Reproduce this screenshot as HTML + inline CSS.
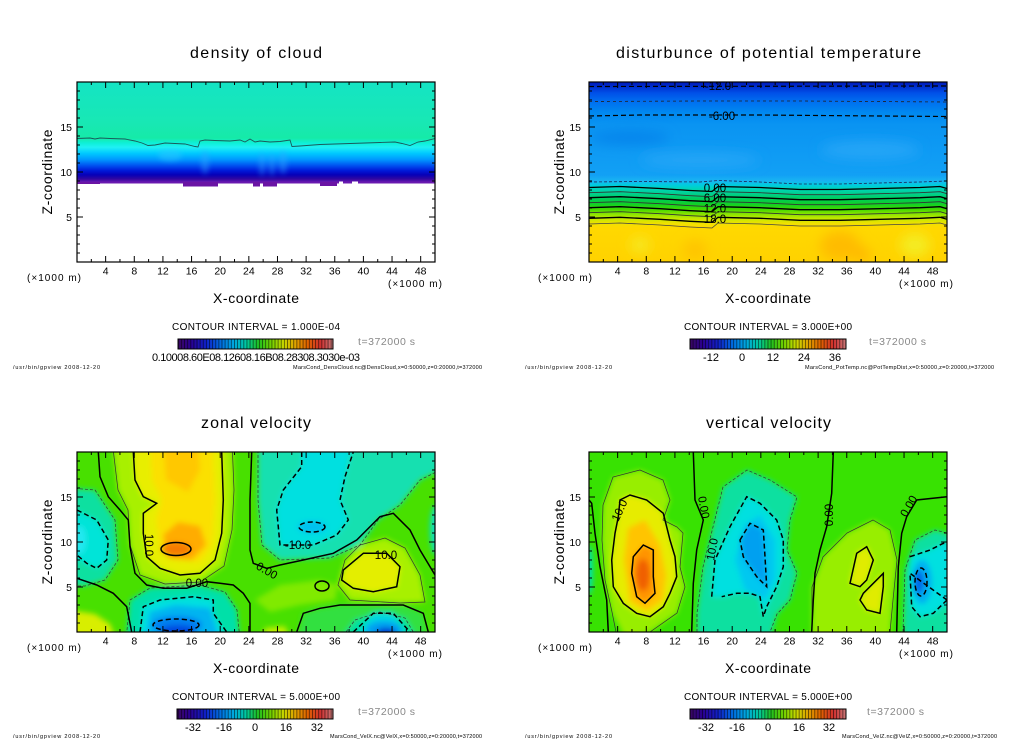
<!DOCTYPE html>
<html><head><meta charset="utf-8"><style>
html,body{margin:0;padding:0;background:#fff;}
svg{display:block;font-family:"Liberation Sans",sans-serif;}
</style></head><body>
<svg width="1024" height="740" viewBox="0 0 1024 740" xmlns="http://www.w3.org/2000/svg">
<defs>
<filter id="bl" filterUnits="userSpaceOnUse" x="0" y="0" width="1024" height="740"><feGaussianBlur stdDeviation="2.6"/></filter>
<filter id="bl6" filterUnits="userSpaceOnUse" x="0" y="0" width="1024" height="740"><feGaussianBlur stdDeviation="6"/></filter>
<clipPath id="c1"><rect x="77" y="82" width="358" height="180"/></clipPath>
<clipPath id="c2"><rect x="589" y="82" width="358" height="180"/></clipPath>
<clipPath id="c3"><rect x="77" y="452" width="358" height="180"/></clipPath>
<clipPath id="c4"><rect x="589" y="452" width="358" height="180"/></clipPath>
<linearGradient id="gCloud" gradientUnits="userSpaceOnUse" x1="0" y1="82" x2="0" y2="184">
<stop offset="0" stop-color="#14e4c4"/>
<stop offset="0.4" stop-color="#18e8b4"/>
<stop offset="0.55" stop-color="#16eaa8"/>
<stop offset="0.6" stop-color="#0ef0d8"/>
<stop offset="0.64" stop-color="#20f0f4"/>
<stop offset="0.7" stop-color="#00c8ff"/>
<stop offset="0.76" stop-color="#0098ff"/>
<stop offset="0.82" stop-color="#0050f0"/>
<stop offset="0.87" stop-color="#0018d8"/>
<stop offset="0.91" stop-color="#0600b8"/>
<stop offset="0.95" stop-color="#3008a0"/>
<stop offset="0.98" stop-color="#6818b0"/>
<stop offset="1" stop-color="#7020b0"/>
</linearGradient>
<linearGradient id="gPot" gradientUnits="userSpaceOnUse" x1="0" y1="82" x2="0" y2="262">
<stop offset="0" stop-color="#0018b8"/>
<stop offset="0.028" stop-color="#0030d0"/>
<stop offset="0.061" stop-color="#0050e8"/>
<stop offset="0.111" stop-color="#0070f0"/>
<stop offset="0.167" stop-color="#0088f0"/>
<stop offset="0.239" stop-color="#0a94f2"/>
<stop offset="0.517" stop-color="#12a0f5"/>
<stop offset="0.55" stop-color="#18b4f2"/>
<stop offset="0.572" stop-color="#00cce0"/>
<stop offset="0.594" stop-color="#00d4b8"/>
<stop offset="0.622" stop-color="#00d08c"/>
<stop offset="0.65" stop-color="#00cc58"/>
<stop offset="0.678" stop-color="#10d028"/>
<stop offset="0.706" stop-color="#40d800"/>
<stop offset="0.733" stop-color="#88e400"/>
<stop offset="0.761" stop-color="#c8e800"/>
<stop offset="0.789" stop-color="#f4e000"/>
<stop offset="0.811" stop-color="#ffd800"/>
<stop offset="1" stop-color="#ffd200"/>
</linearGradient>
<linearGradient id="gBar" x1="0" y1="0" x2="1" y2="0">
<stop offset="0" stop-color="#3a0860"/>
<stop offset="0.08" stop-color="#2a0090"/>
<stop offset="0.18" stop-color="#1020c8"/>
<stop offset="0.28" stop-color="#0070e0"/>
<stop offset="0.36" stop-color="#00a8e0"/>
<stop offset="0.44" stop-color="#00c8a0"/>
<stop offset="0.52" stop-color="#20c020"/>
<stop offset="0.6" stop-color="#70d000"/>
<stop offset="0.68" stop-color="#c8d800"/>
<stop offset="0.76" stop-color="#e0a000"/>
<stop offset="0.84" stop-color="#e06000"/>
<stop offset="0.92" stop-color="#d03030"/>
<stop offset="1" stop-color="#c87878"/>
</linearGradient>
<pattern id="stripe" width="3.12" height="12" patternUnits="userSpaceOnUse"><rect width="0.9" height="12" fill="#000" opacity="0.55"/></pattern>
<path id="tk" fill="none" stroke="#000" stroke-width="1" d="M14.32 180v-3M28.64 180v-6M42.96 180v-3M57.28 180v-6M71.6 180v-3M85.92 180v-6M100.24 180v-3M114.56 180v-6M128.88 180v-3M143.2 180v-6M157.52 180v-3M171.84 180v-6M186.16 180v-3M200.48 180v-6M214.8 180v-3M229.12 180v-6M243.44 180v-3M257.76 180v-6M272.08 180v-3M286.4 180v-6M300.72 180v-3M315.04 180v-6M329.36 180v-3M343.68 180v-6 M14.32 0v3M28.64 0v6M42.96 0v3M57.28 0v6M71.6 0v3M85.92 0v6M100.24 0v3M114.56 0v6M128.88 0v3M143.2 0v6M157.52 0v3M171.84 0v6M186.16 0v3M200.48 0v6M214.8 0v3M229.12 0v6M243.44 0v3M257.76 0v6M272.08 0v3M286.4 0v6M300.72 0v3M315.04 0v6M329.36 0v3M343.68 0v6 M0 171h3M0 162h3M0 153h3M0 144h3M0 135h6M0 126h3M0 117h3M0 108h3M0 99h3M0 90h6M0 81h3M0 72h3M0 63h3M0 54h3M0 45h6M0 36h3M0 27h3M0 18h3M0 9h3 M358 171h-3M358 162h-3M358 153h-3M358 144h-3M358 135h-6M358 126h-3M358 117h-3M358 108h-3M358 99h-3M358 90h-6M358 81h-3M358 72h-3M358 63h-3M358 54h-3M358 45h-6M358 36h-3M358 27h-3M358 18h-3M358 9h-3"/>
</defs>

<rect width="1024" height="740" fill="#fff"/>

<!-- ===== Panel 1: density of cloud ===== -->
<text x="190" y="58" font-size="16" textLength="132">density of cloud</text>
<g clip-path="url(#c1)">
<rect x="77" y="82" width="358" height="180" fill="#fff"/>
<rect x="77" y="82" width="358" height="101.5" fill="url(#gCloud)"/>
<g filter="url(#bl)" opacity="0.45">
<ellipse cx="205" cy="162" rx="4" ry="12" fill="#30a8ff"/>
<ellipse cx="262" cy="164" rx="3" ry="12" fill="#30a8ff"/>
<ellipse cx="272" cy="164" rx="3" ry="12" fill="#30a8ff"/>
<ellipse cx="283" cy="162" rx="4" ry="12" fill="#30a8ff"/>
<ellipse cx="170" cy="155" rx="12" ry="6" fill="#30c8ff"/>
</g>
<g fill="#6a14a4">
<rect x="77" y="182" width="23" height="2"/>
<rect x="183" y="182" width="35" height="4.5"/>
<rect x="253" y="182" width="7" height="4.5"/>
<rect x="263" y="182" width="14" height="4.5"/>
<rect x="320" y="182" width="17" height="4"/>
</g>
<rect x="339" y="181.5" width="4" height="2" fill="#fff"/>
<rect x="352" y="181.5" width="6" height="2" fill="#fff"/>
<polyline fill="none" stroke="#1a5a5a" stroke-width="0.9" points="77,138.5 90,138 95,139 100,138 110,138.5 125,139 135,141 142,143 148,145.5 155,145 165,143 185,144 195,146.5 198,147 200,141 205,140 215,140.5 230,141 240,140 245,142 250,139 255,142 260,141 270,142 280,141.5 290,140 292,146.5 300,146 320,144.5 350,143.5 380,142.5 395,142 402,143.5 410,145.5 418,142 425,141 435,138.5"/>
</g>
<g transform="translate(77,82)">
<use href="#tk"/>
<rect x="0" y="0" width="358" height="180" fill="none" stroke="#000" stroke-width="1.2"/>
<g font-size="10.5" text-anchor="middle"><text x="28.64" y="192.5">4</text><text x="57.28" y="192.5">8</text><text x="85.92" y="192.5">12</text><text x="114.56" y="192.5">16</text><text x="143.2" y="192.5">20</text><text x="171.84" y="192.5">24</text><text x="200.48" y="192.5">28</text><text x="229.12" y="192.5">32</text><text x="257.76" y="192.5">36</text><text x="286.4" y="192.5">40</text><text x="315.04" y="192.5">44</text><text x="343.68" y="192.5">48</text></g>
<g font-size="10.5" text-anchor="end"><text x="-5" y="49">15</text><text x="-5" y="94">10</text><text x="-5" y="139">5</text></g>
<text x="-50" y="199" font-size="10" textLength="54">(×1000 m)</text>
<text x="311" y="205" font-size="10" textLength="54">(×1000 m)</text>
<text x="179" y="221" font-size="14" text-anchor="middle" textLength="86">X-coordinate</text>
<text transform="translate(-25,90) rotate(-90)" font-size="14" text-anchor="middle" textLength="85">Z-coordinate</text>
</g>
<text x="172" y="330" font-size="10" textLength="168">CONTOUR INTERVAL = 1.000E-04</text>
<rect x="178" y="339" width="155" height="10" fill="url(#gBar)"/>
<rect x="178" y="339" width="155" height="10" fill="url(#stripe)"/>
<rect x="178" y="339" width="155" height="10" fill="none" stroke="#000" stroke-width="1"/>
<text x="358" y="345" font-size="10.5" fill="#888" textLength="57">t=372000 s</text>
<text x="152" y="361" font-size="11" textLength="208">0.10008.60E08.12608.16B08.28308.3030e-03</text>
<text x="13" y="369" font-size="5.5" textLength="87">/usr/bin/gpview   2008-12-20</text>
<text x="293" y="369" font-size="5.5" textLength="189">MarsCond_DensCloud.nc@DensCloud,x=0:50000,z=0:20000,t=372000</text>

<!-- ===== Panel 2: potential temperature ===== -->
<text x="616" y="58" font-size="16" textLength="305">disturbunce of potential temperature</text>
<g clip-path="url(#c2)">
<rect x="589" y="82" width="358" height="180" fill="url(#gPot)"/>
<g filter="url(#bl6)">
<ellipse cx="700" cy="160" rx="60" ry="7" fill="#2eaaf8" opacity="0.7"/>
<ellipse cx="870" cy="150" rx="50" ry="9" fill="#2eaaf8" opacity="0.7"/>
<ellipse cx="630" cy="138" rx="40" ry="7" fill="#0078e8" opacity="0.6"/>
<ellipse cx="840" cy="246" rx="20" ry="15" fill="#ffbc00"/>
<ellipse cx="695" cy="250" rx="12" ry="10" fill="#ffc400"/>
<ellipse cx="862" cy="255" rx="8" ry="8" fill="#ffb800"/>
<ellipse cx="915" cy="245" rx="15" ry="12" fill="#f4ec20"/>
<ellipse cx="640" cy="245" rx="10" ry="8" fill="#f6e820"/>
</g>
<g fill="none" stroke="#000">
<polyline stroke-width="1.2" stroke-dasharray="5 3" points="589,86.5 947,86"/>
<polyline stroke-width="0.8" stroke="#222" stroke-dasharray="3 3" points="589,101.5 700,101 800,101 947,102"/>
<polyline stroke-width="1.2" stroke-dasharray="5 3" points="589,116 640,115 700,115 760,115 820,115.5 880,116 947,116.5"/>
<polyline stroke-width="0.8" stroke="#225" stroke-dasharray="3 2" points="589,182 640,181.5 700,182 718,180.5 760,182 800,184 840,184 880,183 920,182 947,181"/>
<polyline stroke-width="1.3" points="589,187.5 620,186.5 660,188.5 690,190.5 712,191.5 718,186.5 760,187.5 800,189.5 840,189.5 880,188.5 920,187.5 940,186.5 947,188.5"/>
<polyline stroke-width="0.8" stroke="#333" points="589,192.7 620,191.7 660,193.7 690,195.7 712,196.7 718,191.7 760,192.7 800,194.7 840,194.7 880,193.7 920,192.7 940,191.7 947,193.7"/>
<polyline stroke-width="1.3" points="589,197.7 620,196.7 660,198.7 690,200.7 712,201.7 718,196.7 760,197.7 800,199.7 840,199.7 880,198.7 920,197.7 940,196.7 947,198.7"/>
<polyline stroke-width="0.8" stroke="#333" points="589,202.7 620,201.7 660,203.7 690,205.7 712,206.7 718,201.7 760,202.7 800,204.7 840,204.7 880,203.7 920,202.7 940,201.7 947,203.7"/>
<polyline stroke-width="1.3" points="589,207.7 620,206.7 660,208.7 690,210.7 712,211.7 718,206.7 760,207.7 800,209.7 840,209.7 880,208.7 920,207.7 940,206.7 947,208.7"/>
<polyline stroke-width="0.8" stroke="#333" points="589,212.7 620,211.7 660,213.7 690,215.7 712,216.7 718,211.7 760,212.7 800,214.7 840,214.7 880,213.7 920,212.7 940,211.7 947,213.7"/>
<polyline stroke-width="1.3" points="589,218.3 620,217.3 660,219.3 690,221.3 712,222.3 718,217.3 760,218.3 800,220.3 840,220.3 880,219.3 920,218.3 940,217.3 947,219.3"/>
<polyline stroke-width="0.8" stroke="#444" points="589,224 620,223 660,225 690,227 712,228 718,223 760,224 800,226 840,226 880,225 920,224 940,223 947,225"/>
</g>
<g font-size="11.5" text-anchor="middle">
<text x="718" y="90">-12.0</text>
<text x="722" y="120">-6.00</text>
<text x="715" y="192">0.00</text>
<text x="715" y="202">6.00</text>
<text x="715" y="212.5">12.0</text>
<text x="715" y="223">18.0</text>
</g>
</g>
<g transform="translate(589,82)">
<use href="#tk"/>
<rect x="0" y="0" width="358" height="180" fill="none" stroke="#000" stroke-width="1.2"/>
<g font-size="10.5" text-anchor="middle"><text x="28.64" y="192.5">4</text><text x="57.28" y="192.5">8</text><text x="85.92" y="192.5">12</text><text x="114.56" y="192.5">16</text><text x="143.2" y="192.5">20</text><text x="171.84" y="192.5">24</text><text x="200.48" y="192.5">28</text><text x="229.12" y="192.5">32</text><text x="257.76" y="192.5">36</text><text x="286.4" y="192.5">40</text><text x="315.04" y="192.5">44</text><text x="343.68" y="192.5">48</text></g>
<g font-size="10.5" text-anchor="end"><text x="-8" y="49">15</text><text x="-8" y="94">10</text><text x="-8" y="139">5</text></g>
<text x="-51" y="199" font-size="10" textLength="54">(×1000 m)</text>
<text x="310" y="205" font-size="10" textLength="54">(×1000 m)</text>
<text x="179" y="221" font-size="14" text-anchor="middle" textLength="86">X-coordinate</text>
<text transform="translate(-25,90) rotate(-90)" font-size="14" text-anchor="middle" textLength="85">Z-coordinate</text>
</g>
<text x="684" y="330" font-size="10" textLength="168">CONTOUR INTERVAL = 3.000E+00</text>
<rect x="690" y="339" width="156" height="10" fill="url(#gBar)"/>
<rect x="690" y="339" width="156" height="10" fill="url(#stripe)"/>
<rect x="690" y="339" width="156" height="10" fill="none" stroke="#000" stroke-width="1"/>
<text x="869" y="345" font-size="10.5" fill="#888" textLength="57">t=372000 s</text>
<g font-size="11" text-anchor="middle"><text x="711" y="361">-12</text><text x="742" y="361">0</text><text x="773" y="361">12</text><text x="804" y="361">24</text><text x="835" y="361">36</text></g>
<text x="525" y="369" font-size="5.5" textLength="87">/usr/bin/gpview   2008-12-20</text>
<text x="805" y="369" font-size="5.5" textLength="189">MarsCond_PotTemp.nc@PotTempDist,x=0:50000,z=0:20000,t=372000</text>

<!-- ===== Panel 3: zonal velocity ===== -->
<text x="201" y="428" font-size="16" textLength="110">zonal velocity</text>
<g clip-path="url(#c3)">
<rect x="77" y="452" width="358" height="180" fill="#48e000"/>
<g filter="url(#bl)">
<path fill="#a8f000" d="M112 440 L118 490 L128 510 L130 545 L140 575 L165 584 L200 582 L224 566 L232 530 L234 490 L232 440 Z"/>
<path fill="#e8ee00" d="M133 440 L135 480 L143 497 L157 503 L143 513 L143 533 L147 557 L160 568 L180 575 L200 573 L215 560 L222 533 L223 500 L222 440 Z"/>
<path fill="#fbe000" d="M150 440 L152 480 L162 500 L156 520 L160 545 L175 560 L200 562 L212 545 L215 500 L212 440 Z"/>
<path fill="#ffc800" d="M163 440 L166 480 L188 492 L200 470 L198 440 Z"/>
<path fill="#ffac00" d="M163 535 L178 522 L200 526 L206 545 L192 560 L168 558 Z"/>
<ellipse cx="176" cy="549" rx="15" ry="6.5" fill="#f57a00"/>
<path fill="#10e0a0" d="M70 488 L95 490 L115 520 L118 560 L105 580 L85 586 L70 586 Z"/>
<path fill="#00e4d8" d="M70 508 L97 520 L108 540 L107 560 L97 568 L87 564 L70 556 Z"/>
<ellipse cx="80" cy="540" rx="6" ry="14" fill="#20e8f0"/>
<path fill="#18e0b0" d="M258 440 L258 500 L262 545 L280 560 L330 558 L360 545 L378 520 L400 505 L420 480 L440 470 L440 440 Z"/>
<path fill="#00e0e0" d="M301.7 440 L301.7 466.7 L283.3 490 L276.7 510 L280 545 L313 545 L336.7 535 L348.3 520 L340 500 L345 476.7 L353.3 440 Z"/>
<ellipse cx="312" cy="527" rx="14" ry="6" fill="#00c0f0"/>
<ellipse cx="436" cy="530" rx="6" ry="25" fill="#10e0c0"/>
<path fill="#00e0a8" d="M126 640 L130 600 L150 588 L200 585 L225 592 L237 610 L240 640 Z"/>
<path fill="#00e0e0" d="M140 640 L143 606.7 L160 600 L193 596.7 L213 600 L213 613 L227 640 Z"/>
<path fill="#00b4f0" d="M145 640 L150 612 L175 605 L210 608 L220 640 Z"/>
<ellipse cx="177" cy="625" rx="25" ry="9" fill="#0080f0"/>
<ellipse cx="178" cy="631" rx="18" ry="6" fill="#0048e0"/>
<path fill="#30e040" d="M296.7 640 L303 613 L320 608 L340 605 L403 605 L423 613 L428 640 Z"/>
<path fill="#00e0a0" d="M340 640 L355 620 L380 612 L405 618 L418 640 Z"/>
<path fill="#00d8e0" d="M353 640 L373 613 L393 613 L410 640 Z"/>
<ellipse cx="384" cy="630" rx="18" ry="9" fill="#00a0f0"/>
<ellipse cx="386" cy="633" rx="10" ry="5" fill="#0030d0"/>
<path fill="#a8f000" d="M338 585 L345 560 L360 545 L385 538 L405 548 L420 575 L425 602 L400 603 L350 600 Z"/>
<path fill="#e4ee00" d="M363 553 L343 570 L342 580 L353 588 L373 592 L397 587 L400 567 L387 553 Z"/>
<path fill="#d8ee00" d="M70 610 L95 614 L110 624 L116 640 L70 640 Z"/>
<path fill="#c0f000" d="M262 640 L265 628 L285 626 L290 640 Z"/>
<path fill="#80ea00" d="M255 600 L280 585 L320 580 L338 585 L335 600 L300 605 L270 612 Z"/>
</g>
<g fill="none" stroke="#333" stroke-width="0.7">
<path d="M112 440 L118 490 L128 510 L130 545 L140 575 L165 584 L200 582 L224 566 L232 530 L234 490 L232 440"/>
<path d="M338 585 L345 560 L360 545 L385 538 L405 548 L420 575 L425 602 L400 603 L350 600 Z"/>
<path stroke-dasharray="3 2" d="M70 488 L95 490 L115 520 L118 560 L105 580 L85 586 L70 586"/>
<path stroke-dasharray="3 2" d="M258 440 L258 500 L262 545 L280 560 L330 558 L360 545 L378 520 L400 505 L420 480 L440 470"/>
<path stroke-dasharray="3 2" d="M126 640 L130 600 L150 588 L200 585 L225 592 L237 610 L240 640"/>
<path stroke-dasharray="3 2" d="M340 640 L355 620 L380 612 L405 618 L418 640"/>
</g>
<g fill="none" stroke="#000" stroke-width="1.5">
<path d="M98.3 452 L100 476.7 L108.3 496.7 L120 510 L128.3 520 L130 546.7 L135 573.3 L146.7 585 L163.3 588.3 L186.7 588.3 L206.7 581.7 L220 583.3 L233.3 585 L243.3 593.3 L250 603.3 L250 632"/>
<path d="M77 578.3 L96.7 585 L113.3 593.3 L126.7 606.7 L131.7 632"/>
<path d="M133.3 452 L135 480 L143.3 496.7 L156.7 503.3 L143.3 513.3 L143.3 533.3 L146.7 556.7 L160 568.3 L180 575 L200 573.3 L215 560 L221.7 533.3 L223.3 500 L221.7 452"/>
<ellipse cx="176" cy="549" rx="15" ry="6.5"/>
<path d="M251.7 452 L250 500 L250 550 L253.3 563.3 L266.7 568.3 L280 565 L303.3 560 L333.3 553.3 L356.7 540 L380 516.7 L393.3 513.3 L410 530 L420 550 L435 575"/>
<path d="M363.3 553.3 L343.3 570 L341.7 580 L353.3 588.3 L373.3 591.7 L396.7 586.7 L400 566.7 L386.7 553.3 Z"/>
<path d="M296.7 632 L303.3 613.3 L320 608.3 L340 605 L403.3 605 L423.3 613.3 L428.3 632"/>
<ellipse cx="322" cy="586" rx="7" ry="5"/>
<g stroke-dasharray="5 3">
<path d="M77 510 L96.7 520 L108.3 540 L106.7 560 L96.7 568.3 L86.7 563.3 L77 555"/>
<path d="M301.7 452 L301.7 466.7 L283.3 490 L276.7 510 L280 545 L313.3 545 L336.7 535 L348.3 520 L340 500 L345 476.7 L353.3 452"/>
<ellipse cx="312" cy="527" rx="13" ry="5"/>
<path d="M140 632 L143.3 606.7 L160 600 L193.3 596.7 L213.3 600 L213.3 613.3 L226.7 632"/>
<ellipse cx="176" cy="625" rx="23" ry="6"/>
<path d="M353.3 632 L373.3 613.3 L393.3 613.3 L410 632"/>
</g>
</g>
<g font-size="11.5">
<text transform="translate(145,545) rotate(90)" text-anchor="middle">10.0</text>
<text x="197" y="587" text-anchor="middle">0.00</text>
<text transform="translate(265,574) rotate(30)" text-anchor="middle">0.00</text>
<text x="298" y="549" text-anchor="middle">-10.0</text>
<text x="386" y="559" text-anchor="middle">10.0</text>
</g>
</g>
<g transform="translate(77,452)">
<use href="#tk"/>
<rect x="0" y="0" width="358" height="180" fill="none" stroke="#000" stroke-width="1.2"/>
<g font-size="10.5" text-anchor="middle"><text x="28.64" y="192.5">4</text><text x="57.28" y="192.5">8</text><text x="85.92" y="192.5">12</text><text x="114.56" y="192.5">16</text><text x="143.2" y="192.5">20</text><text x="171.84" y="192.5">24</text><text x="200.48" y="192.5">28</text><text x="229.12" y="192.5">32</text><text x="257.76" y="192.5">36</text><text x="286.4" y="192.5">40</text><text x="315.04" y="192.5">44</text><text x="343.68" y="192.5">48</text></g>
<g font-size="10.5" text-anchor="end"><text x="-5" y="49">15</text><text x="-5" y="94">10</text><text x="-5" y="139">5</text></g>
<text x="-50" y="199" font-size="10" textLength="54">(×1000 m)</text>
<text x="311" y="205" font-size="10" textLength="54">(×1000 m)</text>
<text x="179" y="221" font-size="14" text-anchor="middle" textLength="86">X-coordinate</text>
<text transform="translate(-25,90) rotate(-90)" font-size="14" text-anchor="middle" textLength="85">Z-coordinate</text>
</g>
<text x="172" y="700" font-size="10" textLength="168">CONTOUR INTERVAL = 5.000E+00</text>
<rect x="177" y="709" width="156" height="10" fill="url(#gBar)"/>
<rect x="177" y="709" width="156" height="10" fill="url(#stripe)"/>
<rect x="177" y="709" width="156" height="10" fill="none" stroke="#000" stroke-width="1"/>
<text x="358" y="715" font-size="10.5" fill="#888" textLength="57">t=372000 s</text>
<g font-size="11" text-anchor="middle"><text x="193" y="731">-32</text><text x="224" y="731">-16</text><text x="255" y="731">0</text><text x="286" y="731">16</text><text x="317" y="731">32</text></g>
<text x="13" y="738" font-size="5.5" textLength="87">/usr/bin/gpview   2008-12-20</text>
<text x="330" y="738" font-size="5.5" textLength="152">MarsCond_VelX.nc@VelX,x=0:50000,z=0:20000,t=372000</text>

<!-- ===== Panel 4: vertical velocity ===== -->
<text x="706" y="428" font-size="16" textLength="125">vertical velocity</text>
<g clip-path="url(#c4)">
<rect x="589" y="452" width="358" height="180" fill="#38e202"/>
<g filter="url(#bl)">
<path fill="#98ee00" d="M603 505 L613 477 L640 470 L663 480 L670 500 L663 520 L677 527 L683 533 L680 567 L685 587 L677 613 L650 632 L625 638 L612 612 L605 580 L602 540 Z"/>
<path fill="#e6ec00" d="M618.3 516.7 L620 500 L630 495 L646.7 500 L663.3 513.3 L670 540 L675 556.7 L676.7 576.7 L670 593.3 L663.3 606.7 L650 616.7 L636.7 613.3 L623.3 603.3 L613.3 586.7 L611.7 560 L615 533.3 Z"/>
<path fill="#ffc400" d="M624 560 L628 528 L645 520 L660 545 L666 575 L663 600 L647 611 L630 602 Z"/>
<path fill="#ff9400" d="M633.3 556.7 L643.3 545 L653.3 550 L653.3 576.7 L655 593.3 L645 603.3 L636.7 596.7 L631.7 573.3 Z"/>
<ellipse cx="643" cy="575" rx="7" ry="16" fill="#f06000"/>
<path fill="#10e0a0" d="M697 640 L697 613 L703 567 L723 487 L747 470 L770 480 L797 497 L790 520 L787 550 L797 573 L790 600 L777 614 L770 640 Z"/>
<path fill="#00e0e0" d="M711.7 596.7 L715 560 L730 526.7 L746.7 496.7 L760 503.3 L770 513.3 L776.7 520 L783.3 540 L783.3 566.7 L776.7 586.7 L766.7 606.7 L763.3 616.7 L760 596.7 L750 593.3 L736.7 593.3 L721.7 596.7 Z"/>
<path fill="#00c8f0" d="M735 560 L745 525 L760 515 L775 540 L775 580 L765 600 L745 590 Z"/>
<path fill="#00a0f0" d="M740 540 L750 523 L763 530 L765 557 L767 587 L757 577 L743 557 Z"/>
<path fill="#98ee00" d="M812 640 L812 587 L823 557 L847 533 L873 520 L890 530 L897 560 L893 600 L890 640 Z"/>
<path fill="#e0ec00" d="M850 583.3 L856.7 553.3 L866.7 546.7 L873.3 560 L866.7 580 L860 586.7 Z"/>
<path fill="#e0ec00" d="M863.3 593.3 L883.3 573.3 L883.3 586.7 L880 613.3 L866.7 610 L860 600 Z"/>
<path fill="#10e0a0" d="M903 640 L905 570 L915 540 L935 530 L952 535 L952 640 Z"/>
<path fill="#00e0e0" d="M910 556.7 L930 550 L943.3 543.3 L952 545 L952 600 L933.3 613.3 L920 616.7 L911.7 606.7 L910 573.3 Z"/>
<ellipse cx="922" cy="582" rx="10" ry="22" fill="#00b0f0"/>
<ellipse cx="919" cy="582" rx="5" ry="12" fill="#0068e8"/>
<ellipse cx="589" cy="570" rx="4" ry="25" fill="#00e0b0"/>
</g>
<g fill="none" stroke="#333" stroke-width="0.7">
<path d="M603 505 L613 477 L640 470 L663 480 L670 500 L663 520 L677 527 L683 533 L680 567 L685 587 L677 613 L650 632"/>
<path d="M603 505 L602 540 L605 580 L612 612 L616 632"/>
<path d="M812 632 L812 587 L823 557 L847 533 L873 520 L890 530 L897 560 L893 600 L890 632"/>
<path stroke-dasharray="3 2" d="M697 632 L697 613 L703 567 L723 487 L747 470 L770 480 L797 497 L790 520 L787 550 L797 573 L790 600 L777 614 L770 632"/>
<path stroke-dasharray="3 2" d="M903 632 L905 570 L915 540 L935 530 L947 533"/>
</g>
<g fill="none" stroke="#000" stroke-width="1.5">
<path d="M589 500 L591.7 503.3 L595 533.3 L600 566.7 L606.7 600 L608.3 632"/>
<path d="M618.3 516.7 L620 500 L630 495 L646.7 500 L663.3 513.3 L670 540 L675 556.7 L676.7 576.7 L670 593.3 L663.3 606.7 L650 616.7 L636.7 613.3 L623.3 603.3 L613.3 586.7 L611.7 560 L615 533.3 Z"/>
<path d="M633.3 556.7 L643.3 545 L653.3 550 L653.3 576.7 L655 593.3 L645 603.3 L636.7 596.7 L631.7 573.3 Z"/>
<path d="M693.3 452 L695 500 L703.3 520 L696.7 550 L693.3 583.3 L691.7 632"/>
<path d="M833.3 452 L831.7 493.3 L826.7 526.7 L820 550 L815 573.3 L813.3 600 L811.7 632"/>
<path d="M947 496.7 L916.7 500 L906.7 516.7 L901.7 533.3 L898.3 566.7 L896.7 632"/>
<path d="M850 583.3 L856.7 553.3 L866.7 546.7 L873.3 560 L866.7 580 L860 586.7 Z"/>
<path d="M863.3 593.3 L883.3 573.3 L883.3 586.7 L880 613.3 L866.7 610 L860 600 Z"/>
<g stroke-dasharray="5 3">
<path d="M711.7 596.7 L715 560 L730 526.7 L746.7 496.7 L760 503.3 L770 513.3 L776.7 520 L783.3 540 L783.3 566.7 L776.7 586.7 L766.7 606.7 L763.3 616.7 L760 596.7 L750 593.3 L736.7 593.3 L721.7 596.7"/>
<path d="M740 540 L750 523.3 L763.3 530 L765 556.7 L766.7 586.7 L756.7 576.7 L743.3 556.7 Z"/>
<path d="M910 556.7 L930 550 L943.3 543.3 L947 544 M947 600 L933.3 613.3 L920 616.7 L911.7 606.7 L910 573.3 Z"/>
<ellipse cx="921" cy="582" rx="6" ry="14"/>
</g>
</g>
<g font-size="11.5">
<text transform="translate(623,512) rotate(-65)" text-anchor="middle">10.0</text>
<text transform="translate(700,508) rotate(80)" text-anchor="middle">0.00</text>
<text transform="translate(716,550) rotate(-80)" text-anchor="middle">10.0</text>
<text transform="translate(833,515) rotate(-90)" text-anchor="middle">0.00</text>
<text transform="translate(912,508) rotate(-60)" text-anchor="middle">0.00</text>
</g>
</g>
<g transform="translate(589,452)">
<use href="#tk"/>
<rect x="0" y="0" width="358" height="180" fill="none" stroke="#000" stroke-width="1.2"/>
<g font-size="10.5" text-anchor="middle"><text x="28.64" y="192.5">4</text><text x="57.28" y="192.5">8</text><text x="85.92" y="192.5">12</text><text x="114.56" y="192.5">16</text><text x="143.2" y="192.5">20</text><text x="171.84" y="192.5">24</text><text x="200.48" y="192.5">28</text><text x="229.12" y="192.5">32</text><text x="257.76" y="192.5">36</text><text x="286.4" y="192.5">40</text><text x="315.04" y="192.5">44</text><text x="343.68" y="192.5">48</text></g>
<g font-size="10.5" text-anchor="end"><text x="-8" y="49">15</text><text x="-8" y="94">10</text><text x="-8" y="139">5</text></g>
<text x="-51" y="199" font-size="10" textLength="54">(×1000 m)</text>
<text x="310" y="205" font-size="10" textLength="54">(×1000 m)</text>
<text x="179" y="221" font-size="14" text-anchor="middle" textLength="86">X-coordinate</text>
<text transform="translate(-25,90) rotate(-90)" font-size="14" text-anchor="middle" textLength="85">Z-coordinate</text>
</g>
<text x="684" y="700" font-size="10" textLength="168">CONTOUR INTERVAL = 5.000E+00</text>
<rect x="690" y="709" width="156" height="10" fill="url(#gBar)"/>
<rect x="690" y="709" width="156" height="10" fill="url(#stripe)"/>
<rect x="690" y="709" width="156" height="10" fill="none" stroke="#000" stroke-width="1"/>
<text x="867" y="715" font-size="10.5" fill="#888" textLength="57">t=372000 s</text>
<g font-size="11" text-anchor="middle"><text x="706" y="731">-32</text><text x="737" y="731">-16</text><text x="768" y="731">0</text><text x="799" y="731">16</text><text x="829" y="731">32</text></g>
<text x="525" y="738" font-size="5.5" textLength="87">/usr/bin/gpview   2008-12-20</text>
<text x="842" y="738" font-size="5.5" textLength="155">MarsCond_VelZ.nc@VelZ,x=0:50000,z=0:20000,t=372000</text>
</svg>
</body></html>
